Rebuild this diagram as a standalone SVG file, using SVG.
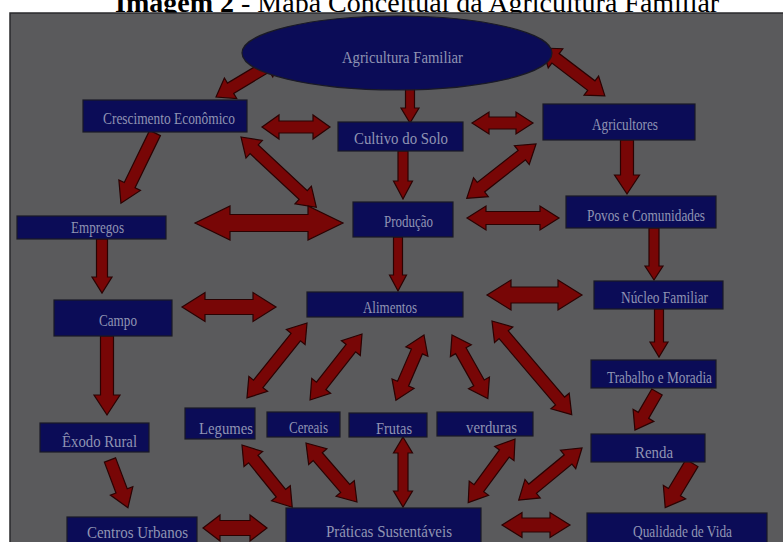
<svg xmlns="http://www.w3.org/2000/svg" width="783" height="542" viewBox="0 0 783 542">
<style>
.bx{fill:#0b0c57;stroke:#1a1a26;stroke-width:1.2}
.lb{font-family:"Liberation Serif","Times New Roman",serif;fill:#9094b3;text-anchor:middle;font-size:17px}
.ar{fill:#780606;stroke:#2a0202;stroke-width:1.2;stroke-linejoin:miter}
.ttl{font-family:"Liberation Serif","Times New Roman",serif;font-size:28px;fill:#000}
</style>
<rect x="0" y="0" width="783" height="542" fill="#ffffff"/>
<text class="ttl" x="115" y="12"><tspan font-weight="bold">Imagem 2</tspan> - Mapa Conceitual da Agricultura Familiar</text>
<rect x="10" y="13" width="775" height="532" fill="#5a5a5c" stroke="#2a2a2c" stroke-width="1.5"/>

<g id="connectors">
<path class="ar" transform="translate(216,97) rotate(-31)" d="M0,0 L17,-12 L17,-6 L59,-6 L59,-12 L76,0 L59,12 L59,6 L17,6 L17,12 Z"/>
<path class="ar" transform="translate(410,72) rotate(90)" d="M0,0 L15,-9 L15,-4.5 L36,-4.5 L36,-9 L51,0 L36,9 L36,4.5 L15,4.5 L15,9 Z"/>
<path class="ar" transform="translate(542,48) rotate(37.3)" d="M0,0 L17,-12 L17,-6 L62,-6 L62,-12 L79,0 L62,12 L62,6 L17,6 L17,12 Z"/>
<path class="ar" transform="translate(262,127)" d="M0,0 L17,-12 L17,-6 L51,-6 L51,-12 L68,0 L51,12 L51,6 L17,6 L17,12 Z"/>
<path class="ar" transform="translate(472,123)" d="M0,0 L17,-11 L17,-6 L44,-6 L44,-11 L61,0 L44,11 L44,6 L17,6 L17,11 Z"/>
<path class="ar" transform="translate(155,133) rotate(115.9)" d="M0,-6 L58,-6 L58,-12 L78,0 L58,12 L58,6 L0,6 Z"/>
<path class="ar" transform="translate(241,137) rotate(43)" d="M0,0 L18,-12 L18,-6 L85,-6 L85,-12 L103,0 L85,12 L85,6 L18,6 L18,12 Z"/>
<path class="ar" transform="translate(403,151) rotate(90)" d="M0,-5 L30,-5 L30,-9.5 L48,0 L30,9.5 L30,5 L0,5 Z"/>
<path class="ar" transform="translate(627,140) rotate(90)" d="M0,-6.5 L35,-6.5 L35,-12.5 L54,0 L35,12.5 L35,6.5 L0,6.5 Z"/>
<path class="ar" transform="translate(536,144) rotate(141.9)" d="M0,0 L18,-12 L18,-6 L70,-6 L70,-12 L88,0 L70,12 L70,6 L18,6 L18,12 Z"/>
<path class="ar" transform="translate(195,223)" d="M0,0 L35,-17 L35,-8.5 L113,-8.5 L113,-17 L148,0 L113,17 L113,8.5 L35,8.5 L35,17 Z"/>
<path class="ar" transform="translate(467,218)" d="M0,0 L19,-12 L19,-6.5 L73,-6.5 L73,-12 L92,0 L73,12 L73,6.5 L19,6.5 L19,12 Z"/>
<path class="ar" transform="translate(102,239) rotate(90)" d="M0,-5.5 L38,-5.5 L38,-10 L54,0 L38,10 L38,5.5 L0,5.5 Z"/>
<path class="ar" transform="translate(398,237) rotate(90)" d="M0,-4.5 L38,-4.5 L38,-8.5 L54,0 L38,8.5 L38,4.5 L0,4.5 Z"/>
<path class="ar" transform="translate(654,228) rotate(90)" d="M0,-5 L38,-5 L38,-9 L52,0 L38,9 L38,5 L0,5 Z"/>
<path class="ar" transform="translate(182,307)" d="M0,0 L23,-14.5 L23,-7.5 L71,-7.5 L71,-14.5 L94,0 L71,14.5 L71,7.5 L23,7.5 L23,14.5 Z"/>
<path class="ar" transform="translate(487,295)" d="M0,0 L24,-15 L24,-8 L71,-8 L71,-15 L95,0 L71,15 L71,8 L24,8 L24,15 Z"/>
<path class="ar" transform="translate(659,309) rotate(90)" d="M0,-4.5 L33,-4.5 L33,-9 L48,0 L33,9 L33,4.5 L0,4.5 Z"/>
<path class="ar" transform="translate(107,336) rotate(90)" d="M0,-6.5 L59,-6.5 L59,-13 L79,0 L59,13 L59,6.5 L0,6.5 Z"/>
<path class="ar" transform="translate(307,323) rotate(128.7)" d="M0,0 L18,-12 L18,-6 L78,-6 L78,-12 L96,0 L78,12 L78,6 L18,6 L18,12 Z"/>
<path class="ar" transform="translate(362,334) rotate(128.2)" d="M0,0 L18,-12 L18,-6 L66,-6 L66,-12 L84,0 L66,12 L66,6 L18,6 L18,12 Z"/>
<path class="ar" transform="translate(424,335) rotate(113.3)" d="M0,0 L18,-12 L18,-6 L53,-6 L53,-12 L71,0 L53,12 L53,6 L18,6 L18,12 Z"/>
<path class="ar" transform="translate(452,335) rotate(60.6)" d="M0,0 L18,-12 L18,-6 L55,-6 L55,-12 L73,0 L55,12 L55,6 L18,6 L18,12 Z"/>
<path class="ar" transform="translate(492,321) rotate(49.6)" d="M0,0 L18,-12 L18,-6 L105,-6 L105,-12 L123,0 L105,12 L105,6 L18,6 L18,12 Z"/>
<path class="ar" transform="translate(110,460) rotate(69.4)" d="M0,-6 L33,-6 L33,-12 L51,0 L33,12 L33,6 L0,6 Z"/>
<path class="ar" transform="translate(203,528)" d="M0,0 L17,-13 L17,-7.5 L47,-7.5 L47,-13 L64,0 L47,13 L47,7.5 L17,7.5 L17,13 Z"/>
<path class="ar" transform="translate(242,445) rotate(51.1)" d="M0,0 L18,-12 L18,-6 L62,-6 L62,-12 L80,0 L62,12 L62,6 L18,6 L18,12 Z"/>
<path class="ar" transform="translate(306,443) rotate(49.2)" d="M0,0 L18,-12 L18,-6 L60,-6 L60,-12 L78,0 L60,12 L60,6 L18,6 L18,12 Z"/>
<path class="ar" transform="translate(403,437) rotate(90)" d="M0,0 L16,-9.5 L16,-5 L54,-5 L54,-9.5 L70,0 L54,9.5 L54,5 L16,5 L16,9.5 Z"/>
<path class="ar" transform="translate(515,439) rotate(126.3)" d="M0,0 L18,-12 L18,-6 L61,-6 L61,-12 L79,0 L61,12 L61,6 L18,6 L18,12 Z"/>
<path class="ar" transform="translate(582,448) rotate(140.5)" d="M0,0 L18,-12 L18,-6 L64,-6 L64,-12 L82,0 L64,12 L64,6 L18,6 L18,12 Z"/>
<path class="ar" transform="translate(657,392) rotate(120.1)" d="M0,-6 L27,-6 L27,-12 L44,0 L27,12 L27,6 L0,6 Z"/>
<path class="ar" transform="translate(692,463) rotate(121)" d="M0,-7 L34,-7 L34,-13 L52,0 L34,13 L34,7 L0,7 Z"/>
<path class="ar" transform="translate(502,525)" d="M0,0 L20,-12.5 L20,-7 L48,-7 L48,-12.5 L68,0 L48,12.5 L48,7 L20,7 L20,12.5 Z"/>
</g>

<g id="agricultura-familiar"><ellipse class="bx" cx="397" cy="53" rx="155" ry="37"/><text class="lb" x="402.5" y="63" font-size="19" textLength="121" lengthAdjust="spacingAndGlyphs">Agricultura Familiar</text></g>
<g id="crescimento"><rect class="bx" x="83" y="100" width="164" height="32"/><text class="lb" x="169" y="124" textLength="132" lengthAdjust="spacingAndGlyphs">Crescimento Econômico</text></g>
<g id="cultivo"><rect class="bx" x="338" y="122" width="125" height="29"/><text class="lb" x="401" y="144" textLength="94" lengthAdjust="spacingAndGlyphs">Cultivo do Solo</text></g>
<g id="agricultores"><rect class="bx" x="543" y="104" width="152" height="36"/><text class="lb" x="625" y="130" font-size="16" textLength="66" lengthAdjust="spacingAndGlyphs">Agricultores</text></g>
<g id="empregos"><rect class="bx" x="17" y="216" width="149" height="23"/><text class="lb" x="97.5" y="233" font-size="16" textLength="53" lengthAdjust="spacingAndGlyphs">Empregos</text></g>
<g id="producao"><rect class="bx" x="353" y="202" width="100" height="35"/><text class="lb" x="408.5" y="227" font-size="16" textLength="49" lengthAdjust="spacingAndGlyphs">Produção</text></g>
<g id="povos"><rect class="bx" x="566" y="196" width="150" height="32"/><text class="lb" x="646" y="221" font-size="18" textLength="118" lengthAdjust="spacingAndGlyphs">Povos e Comunidades</text></g>
<g id="campo"><rect class="bx" x="54" y="300" width="118" height="36"/><text class="lb" x="118" y="326" textLength="38" lengthAdjust="spacingAndGlyphs">Campo</text></g>
<g id="alimentos"><rect class="bx" x="307" y="292" width="156" height="25"/><text class="lb" x="390" y="313" font-size="16" textLength="54" lengthAdjust="spacingAndGlyphs">Alimentos</text></g>
<g id="nucleo"><rect class="bx" x="594" y="281" width="129" height="28"/><text class="lb" x="664.5" y="303" font-size="16" textLength="87" lengthAdjust="spacingAndGlyphs">Núcleo Familiar</text></g>
<g id="trabalho"><rect class="bx" x="591" y="360" width="125" height="28"/><text class="lb" x="659.5" y="383" textLength="105" lengthAdjust="spacingAndGlyphs">Trabalho e Moradia</text></g>
<g id="exodo"><rect class="bx" x="40" y="423" width="109" height="29"/><text class="lb" x="99.5" y="447" font-size="18" textLength="75" lengthAdjust="spacingAndGlyphs">Êxodo Rural</text></g>
<g id="legumes"><rect class="bx" x="185" y="408" width="70" height="31"/><text class="lb" x="226" y="434" font-size="18" textLength="54" lengthAdjust="spacingAndGlyphs">Legumes</text></g>
<g id="cereais"><rect class="bx" x="267" y="412" width="73" height="25"/><text class="lb" x="308.5" y="433" font-size="16" textLength="39" lengthAdjust="spacingAndGlyphs">Cereais</text></g>
<g id="frutas"><rect class="bx" x="349" y="413" width="78" height="24"/><text class="lb" x="394" y="434" font-size="18" textLength="36" lengthAdjust="spacingAndGlyphs">Frutas</text></g>
<g id="verduras"><rect class="bx" x="437" y="412" width="96" height="24"/><text class="lb" x="491.5" y="433" textLength="51" lengthAdjust="spacingAndGlyphs">verduras</text></g>
<g id="renda"><rect class="bx" x="591" y="434" width="114" height="28"/><text class="lb" x="654" y="458" textLength="38" lengthAdjust="spacingAndGlyphs">Renda</text></g>
<g id="centros"><rect class="bx" x="67" y="517" width="130" height="30"/><text class="lb" x="137.5" y="538" font-size="18" textLength="101" lengthAdjust="spacingAndGlyphs">Centros Urbanos</text></g>
<g id="praticas"><rect class="bx" x="286" y="508" width="195" height="40"/><text class="lb" x="389" y="537" font-size="18" textLength="126" lengthAdjust="spacingAndGlyphs">Práticas Sustentáveis</text></g>
<g id="qualidade"><rect class="bx" x="587" y="513" width="180" height="35"/><text class="lb" x="682.5" y="537" textLength="99" lengthAdjust="spacingAndGlyphs">Qualidade de Vida</text></g>
</svg>
